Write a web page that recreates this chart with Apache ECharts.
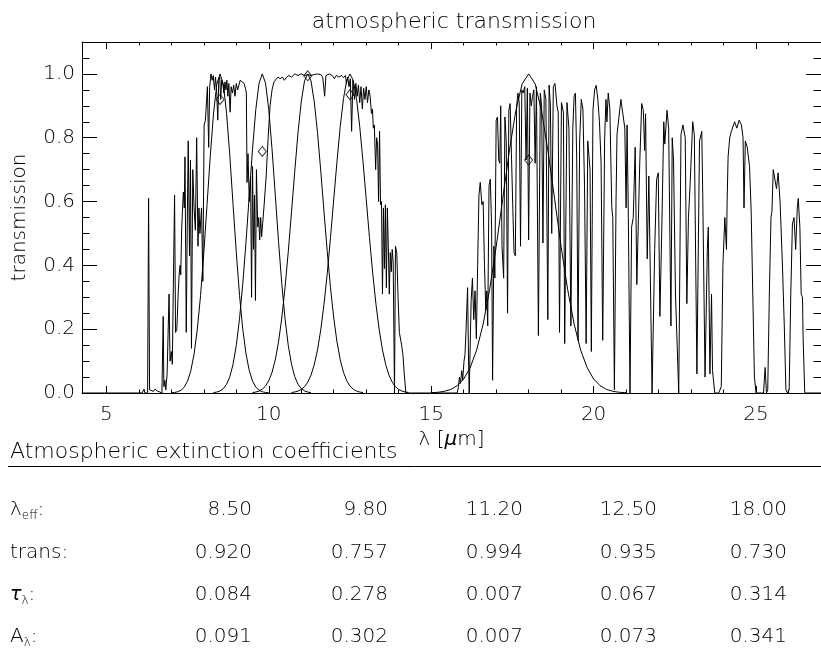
<!DOCTYPE html>
<html><head><meta charset="utf-8">
<script src="https://cdn.jsdelivr.net/npm/echarts@6/dist/echarts.min.js"></script>
<style>html,body{margin:0;padding:0;background:#fff}#c{width:821px;height:648px}</style>
</head><body><div id="c"></div>
<script>
const FONT = 'DejaVu Sans';
const FW = 200;
// axis ticks
const xMajorTicks = [5, 10, 15, 20, 25];
const xMinorTicks = [5,6,7,8,9,10,11,12,13,14,15,16,17,18,19,20,21,22,23,24,25,26];
const yMajorTicks = [0, 0.2, 0.4, 0.6, 0.8, 1.0];
const yMinorTicks = [0.05,0.1,0.15,0.2,0.25,0.3,0.35,0.4,0.45,0.5,0.55,0.6,0.65,0.7,0.75,0.8,0.85,0.9,0.95,1.0,1.05];

// atmospheric transmission spectrum [lambda (um), transmission]
const spectrum = [
[4.25,0],[6.10,0],[6.16,0.012],[6.19,0],[6.27,0],[6.30,0.61],[6.33,0.01],[6.38,0.012],[6.45,0.005],[6.50,0.012],[6.58,0.006],[6.64,0.01],[6.71,0],[6.75,0.24],[6.77,0.02],[6.80,0.04],[6.83,0.01],[6.87,0.06],[6.93,0.31],[6.96,0.10],[7.00,0.13],[7.03,0.09],[7.10,0.62],[7.13,0.19],[7.17,0.20],[7.21,0.31],[7.24,0.37],[7.27,0.40],[7.29,0.37],[7.32,0.52],[7.37,0.63],[7.40,0.58],[7.42,0.74],[7.46,0.19],[7.49,0.52],[7.52,0.79],[7.56,0.43],[7.59,0.73],[7.62,0.14],[7.66,0.70],[7.70,0.58],[7.74,0.51],[7.78,0.80],[7.82,0.46],[7.85,0.58],[7.88,0.50],[7.93,0.58],[7.97,0.35],[8.01,0.84],[8.05,0.855],[8.08,0.85],[8.11,0.96],[8.15,0.77],[8.18,0.96],[8.22,1.0],[8.26,0.98],[8.29,0.995],[8.33,0.95],[8.36,0.99],[8.40,0.94],[8.43,0.855],[8.46,0.98],[8.49,0.99],[8.52,0.92],[8.55,0.98],[8.59,0.965],[8.62,0.94],[8.65,0.975],[8.68,0.95],[8.71,0.98],[8.74,0.93],[8.77,0.97],[8.81,0.88],[8.84,0.96],[8.88,0.94],[8.92,0.965],[8.96,0.93],[9.00,0.97],[9.04,0.95],[9.08,0.965],[9.12,0.98],[9.18,0.975],[9.24,0.97],[9.28,0.955],[9.31,0.94],[9.33,0.66],[9.36,0.75],[9.40,0.60],[9.44,0.68],[9.47,0.30],[9.50,0.71],[9.53,0.45],[9.56,0.62],[9.59,0.29],[9.62,0.70],[9.66,0.52],[9.69,0.55],[9.72,0.48],[9.75,0.55],[9.78,0.49],[9.81,0.53],[9.85,0.58],[9.92,0.68],[9.98,0.80],[10.04,0.90],[10.10,0.95],[10.16,0.975],[10.22,0.98],[10.28,0.99],[10.35,0.985],[10.42,0.99],[10.48,0.98],[10.55,0.99],[10.62,0.995],[10.70,0.99],[10.80,1.0],[10.90,0.995],[11.00,1.0],[11.10,0.995],[11.20,0.998],[11.30,0.995],[11.40,0.998],[11.50,1.0],[11.60,0.998],[11.66,0.99],[11.72,0.93],[11.76,0.995],[11.86,1.0],[11.95,0.995],[12.02,0.985],[12.08,0.995],[12.16,0.99],[12.24,0.995],[12.30,0.988],[12.36,0.995],[12.39,0.97],[12.43,0.99],[12.47,0.96],[12.51,0.985],[12.55,0.82],[12.59,0.98],[12.64,0.92],[12.68,0.97],[12.72,0.93],[12.76,0.965],[12.80,0.91],[12.84,0.96],[12.88,0.89],[12.92,0.955],[12.96,0.92],[13.00,0.96],[13.04,0.91],[13.08,0.95],[13.12,0.93],[13.16,0.876],[13.19,0.89],[13.22,0.83],[13.25,0.84],[13.29,0.70],[13.32,0.80],[13.35,0.78],[13.38,0.60],[13.41,0.82],[13.44,0.59],[13.47,0.60],[13.50,0.31],[13.53,0.58],[13.56,0.39],[13.59,0.59],[13.62,0.33],[13.65,0.58],[13.68,0.46],[13.71,0.31],[13.74,0.44],[13.77,0.38],[13.80,0.45],[13.83,0.41],[13.87,0],[13.90,0.46],[13.94,0.44],[13.98,0.30],[14.02,0.19],[14.05,0.19],[14.09,0.15],[14.13,0.12],[14.17,0.06],[14.22,0],
[15.80,0],[15.84,0.02],[15.87,0.05],[15.90,0.03],[15.94,0.07],[15.97,0.04],[16.01,0.10],[16.04,0.12],[16.07,0.19],[16.12,0.33],[16.15,0.10],[16.17,0],[16.23,0.29],[16.27,0.36],[16.31,0.23],[16.35,0.32],[16.39,0.17],[16.43,0.40],[16.47,0.62],[16.51,0.66],[16.56,0.59],[16.60,0.60],[16.64,0.40],[16.68,0.26],[16.71,0.32],[16.74,0.21],[16.78,0.65],[16.82,0.67],[16.86,0.52],[16.89,0.04],[16.93,0.46],[16.96,0.36],[17.00,0.855],[17.04,0.865],[17.08,0.73],[17.11,0.72],[17.14,0.90],[17.18,0.46],[17.23,0.36],[17.27,0.865],[17.31,0.79],[17.35,0.25],[17.39,0.886],[17.43,0.907],[17.47,0.75],[17.51,0.59],[17.55,0.44],[17.59,0.43],[17.63,0.90],[17.67,0.94],[17.71,0.91],[17.75,0.46],[17.79,0.95],[17.83,0.94],[17.88,0.96],[17.92,0.73],[17.96,0.955],[18.00,0.48],[18.04,0.94],[18.08,0.90],[18.12,0.93],[18.16,0.95],[18.20,0.72],[18.24,0.96],[18.30,0.18],[18.36,0.94],[18.40,0.90],[18.44,0.47],[18.48,0.95],[18.53,0.92],[18.59,0.23],[18.63,0.965],[18.67,0.90],[18.71,0.50],[18.76,0.96],[18.81,0.97],[18.87,0.90],[18.91,0.88],[18.95,0.19],[19.01,0.91],[19.07,0.88],[19.11,0.155],[19.18,0.91],[19.24,0.83],[19.30,0.21],[19.36,0.83],[19.40,0.93],[19.44,0.94],[19.48,0.73],[19.52,0.165],[19.57,0.79],[19.62,0.92],[19.67,0.89],[19.72,0.65],[19.77,0.155],[19.82,0.79],[19.89,0.70],[19.93,0.13],[19.98,0.886],
[20.03,0.95],[20.08,0.964],[20.13,0.92],[20.18,0.85],[20.23,0.72],[20.28,0.165],[20.34,0.80],[20.38,0.92],[20.41,0.85],[20.45,0.94],[20.50,0.89],[20.56,0.58],[20.59,0.55],[20.64,0.01],[20.69,0.60],[20.72,0.81],[20.76,0.81],[20.84,0.92],[20.90,0.92],[20.96,0.83],[21.00,0.58],[21.03,0.84],[21.07,0.55],[21.12,0],[21.17,0.52],[21.22,0.55],[21.28,0.77],[21.33,0.34],[21.37,0.34],[21.42,0.72],[21.48,0.907],[21.53,0.886],[21.57,0.76],[21.60,0.875],[21.65,0.42],[21.70,0.68],[21.80,0],[21.88,0.45],[21.94,0.67],[21.99,0.69],[22.04,0.24],[22.10,0.52],[22.16,0.85],[22.19,0.78],[22.26,0.886],[22.31,0.83],[22.38,0.21],[22.42,0.80],[22.46,0.73],[22.52,0.31],[22.62,0],[22.69,0.81],[22.75,0.84],[22.82,0.80],[22.87,0.28],[22.92,0.55],[22.97,0.65],[23.05,0.85],[23.10,0.81],[23.18,0.06],[23.26,0.79],[23.33,0.82],[23.36,0.62],[23.43,0.05],[23.50,0.45],[23.53,0.52],[23.58,0.06],[23.63,0.31],[23.66,0.07],[23.73,0],[23.85,0],[23.93,0.02],[23.98,0.40],[24.04,0.55],[24.09,0.45],[24.11,0.60],[24.14,0.74],[24.19,0.80],[24.24,0.82],[24.34,0.85],[24.41,0.83],[24.48,0.855],[24.55,0.84],[24.60,0.80],[24.63,0.58],[24.67,0.79],[24.73,0.77],[24.80,0.71],[24.85,0.57],[24.90,0.31],[24.95,0.05],[25.00,0],[25.23,0],[25.28,0.08],[25.32,0],[25.36,0.01],[25.41,0.31],[25.46,0.55],[25.49,0.57],[25.53,0.70],[25.58,0.70],[25.63,0.64],[25.68,0.69],[25.74,0.60],[25.81,0.41],[25.87,0.21],[25.92,0.01],[25.97,0],[26.02,0.01],[26.07,0.31],[26.12,0.53],[26.17,0.55],[26.22,0.45],[26.27,0.58],[26.30,0.61],[26.35,0.52],[26.39,0.31],[26.43,0.30],[26.45,0.17],[26.50,0],[27.0,0]
];

// filter response curves [lambda, response]
const filter850 = [[7.0,0.0006],[7.1,0.0016],[7.2,0.0039],[7.3,0.0088],[7.4,0.0187],[7.5,0.0374],[7.6,0.0698],[7.7,0.122],[7.8,0.200],[7.9,0.306],[8.0,0.440],[8.1,0.591],[8.2,0.744],[8.3,0.877],[8.4,0.968],[8.5,1.0],[8.6,0.968],[8.7,0.877],[8.8,0.744],[8.9,0.591],[9.0,0.440],[9.1,0.306],[9.2,0.200],[9.3,0.122],[9.4,0.0698],[9.5,0.0374],[9.6,0.0187],[9.7,0.0088],[9.8,0.0039],[9.9,0.0016],[10.0,0.0006]];
const filter980 = [[8.3,0.0012],[8.4,0.0029],[8.5,0.0066],[8.6,0.0138],[8.7,0.0273],[8.8,0.0511],[8.9,0.0899],[9.0,0.149],[9.1,0.233],[9.2,0.343],[9.3,0.475],[9.4,0.621],[9.5,0.765],[9.6,0.888],[9.7,0.971],[9.8,1.0],[9.9,0.971],[10.0,0.888],[10.1,0.765],[10.2,0.621],[10.3,0.475],[10.4,0.343],[10.5,0.233],[10.6,0.149],[10.7,0.0899],[10.8,0.0511],[10.9,0.0273],[11.0,0.0138],[11.1,0.0066],[11.2,0.0029],[11.3,0.0012]];
const filter1120 = [[9.5,0.0014],[9.6,0.0030],[9.7,0.0061],[9.8,0.0118],[9.9,0.0218],[10.0,0.0384],[10.1,0.0646],[10.2,0.104],[10.3,0.160],[10.4,0.235],[10.5,0.330],[10.6,0.443],[10.7,0.568],[10.8,0.696],[10.9,0.816],[11.0,0.913],[11.1,0.978],[11.2,1.0],[11.3,0.978],[11.4,0.913],[11.5,0.816],[11.6,0.696],[11.7,0.568],[11.8,0.443],[11.9,0.330],[12.0,0.235],[12.1,0.160],[12.2,0.104],[12.3,0.0646],[12.4,0.0384],[12.5,0.0218],[12.6,0.0118],[12.7,0.0061],[12.8,0.0030],[12.9,0.0014]];
const filter1250 = [[10.7,0.0015],[10.8,0.0031],[10.9,0.0060],[11.0,0.0111],[11.1,0.0198],[11.2,0.0340],[11.3,0.0561],[11.4,0.0889],[11.5,0.135],[11.6,0.198],[11.7,0.278],[11.8,0.375],[11.9,0.487],[12.0,0.607],[12.1,0.726],[12.2,0.835],[12.3,0.923],[12.4,0.980],[12.5,1.0],[12.6,0.980],[12.7,0.923],[12.8,0.835],[12.9,0.726],[13.0,0.607],[13.1,0.487],[13.2,0.375],[13.3,0.278],[13.4,0.198],[13.5,0.135],[13.6,0.0889],[13.7,0.0561],[13.8,0.0340],[13.9,0.0198],[14.0,0.0111],[14.1,0.0060],[14.2,0.0031],[14.3,0.0015]];
const filter1800 = [[15.0,0.0009],[15.2,0.0022],[15.4,0.0051],[15.6,0.0111],[15.8,0.0228],[16.0,0.0439],[16.2,0.0796],[16.4,0.135],[16.6,0.216],[16.8,0.325],[17.0,0.458],[17.2,0.607],[17.4,0.755],[17.6,0.882],[17.8,0.969],[18.0,1.0],[18.2,0.969],[18.4,0.882],[18.6,0.755],[18.8,0.607],[19.0,0.458],[19.2,0.325],[19.4,0.216],[19.6,0.135],[19.8,0.0796],[20.0,0.0439],[20.2,0.0228],[20.4,0.0111],[20.6,0.0051],[20.8,0.0022],[21.0,0.0009]];

// table values
const lambdaEff = [8.50, 9.80, 11.20, 12.50, 18.00];
const transEff = [0.920, 0.757, 0.994, 0.935, 0.730];
const tauEff = [0.084, 0.278, 0.007, 0.067, 0.314];
const aEff = [0.091, 0.302, 0.007, 0.073, 0.341];
const rowLabels = ['{m|λ}{s|eff}{m|:}', '{m|trans:}', '{t|τ}{s|λ}{m|:}', '{m|A}{s|λ}{m|:}'];
const tableTitle = 'Atmospheric extinction coefficients';
const chartTitle = 'atmospheric transmission';

const chart = echarts.init(document.getElementById('c'), null, {renderer: 'canvas'});
const txt = {color: '#000', fontFamily: FONT, fontSize: 20, fontWeight: FW};
const lineBlack = {color: '#000', width: 1};

function xAx(pos, ticks, len, showLine, showLabel) {
  return {
    type: 'value', position: pos, min: 4.25, max: 27, gridIndex: 0,
    axisLine: {show: showLine, onZero: false, lineStyle: lineBlack},
    axisTick: {show: true, inside: true, length: len, customValues: ticks, lineStyle: lineBlack},
    axisLabel: {show: showLabel, customValues: xMajorTicks, margin: 12, ...txt, formatter: v => String(v)},
    splitLine: {show: false}, minorTick: {show: false}
  };
}
function yAx(pos, ticks, len, showLine, showLabel) {
  return {
    type: 'value', position: pos, min: 0, max: 1.1, gridIndex: 0,
    axisLine: {show: showLine, onZero: false, lineStyle: lineBlack},
    axisTick: {show: true, inside: true, length: len, customValues: ticks, lineStyle: lineBlack},
    axisLabel: {show: showLabel, customValues: yMajorTicks, margin: 7, ...txt, formatter: v => v.toFixed(1)},
    splitLine: {show: false}, minorTick: {show: false}
  };
}
const xAxes = [
  xAx('bottom', xMajorTicks, 7, true, true),
  xAx('bottom', xMinorTicks, 3.5, false, false),
  xAx('top', xMajorTicks, 7, true, false),
  xAx('top', xMinorTicks, 3.5, false, false)
];
Object.assign(xAxes[0], {
  name: 'λ [{i|μ}m]', nameLocation: 'middle', nameGap: 30,
  nameTextStyle: {...txt, rich: {i: {...txt, fontWeight: 'normal', fontStyle: 'italic'}}}
});
const yAxes = [
  yAx('left', yMajorTicks, 15, true, true),
  yAx('left', yMinorTicks, 7.5, false, false),
  yAx('right', yMajorTicks, 15, true, false),
  yAx('right', yMinorTicks, 7.5, false, false)
];
Object.assign(yAxes[0], {
  name: 'transmission', nameLocation: 'middle', nameGap: 52, nameRotate: 90, nameTextStyle: {...txt}
});

function curve(data) {
  return {type: 'line', data: data, xAxisIndex: 0, yAxisIndex: 0, showSymbol: false, symbol: 'none',
    lineStyle: {color: '#000', width: 1}, silent: true, z: 2};
}

const gtxt = {fill: '#000', fontFamily: FONT, fontWeight: FW};
const graphics = [
  {type: 'text', x: 454, y: 22, style: {text: chartTitle, ...gtxt, fontSize: 22, align: 'center', verticalAlign: 'middle'}},
  {type: 'text', x: 10, y: 452, style: {text: tableTitle, ...gtxt, fontSize: 22, align: 'left', verticalAlign: 'middle'}},
  {type: 'line', shape: {x1: 8, y1: 466.5, x2: 821, y2: 466.5}, style: {stroke: '#000', lineWidth: 1}}
];
const rowY = [510, 553, 595, 637];
const colRight = [252, 388, 523, 657, 787];
const rows = [lambdaEff.map(v => v.toFixed(2)), transEff.map(v => v.toFixed(3)), tauEff.map(v => v.toFixed(3)), aEff.map(v => v.toFixed(3))];
rowLabels.forEach((lab, r) => {
  graphics.push({type: 'text', x: 10, y: rowY[r], style: {text: lab, align: 'left', verticalAlign: 'middle', fill: '#000',
    rich: {m: {...gtxt, fontSize: 20, lineHeight: 24},
           t: {...gtxt, fontWeight: 'normal', fontSize: 19, lineHeight: 24, fontStyle: 'italic'},
           s: {...gtxt, fontSize: 12, lineHeight: 24, verticalAlign: 'bottom'}}}});
  rows[r].forEach((v, c) => {
    graphics.push({type: 'text', x: colRight[c], y: rowY[r], style: {text: v, ...gtxt, fontSize: 20, align: 'right', verticalAlign: 'middle'}});
  });
});

chart.setOption({
  animation: false,
  backgroundColor: '#fff',
  grid: {left: 82, top: 42, width: 747, height: 351, containLabel: false},
  xAxis: xAxes,
  yAxis: yAxes,
  series: [
    curve(spectrum),
    curve(filter850), curve(filter980), curve(filter1120), curve(filter1250), curve(filter1800),
    {type: 'scatter', xAxisIndex: 0, yAxisIndex: 0, data: lambdaEff.map((l, i) => [l, transEff[i]]),
     symbol: 'diamond', symbolSize: [8, 10], z: 5, silent: true,
     itemStyle: {color: 'rgba(0,0,0,0)', borderColor: '#000', borderWidth: 1}}
  ],
  graphic: graphics
});
</script>
</body></html>
